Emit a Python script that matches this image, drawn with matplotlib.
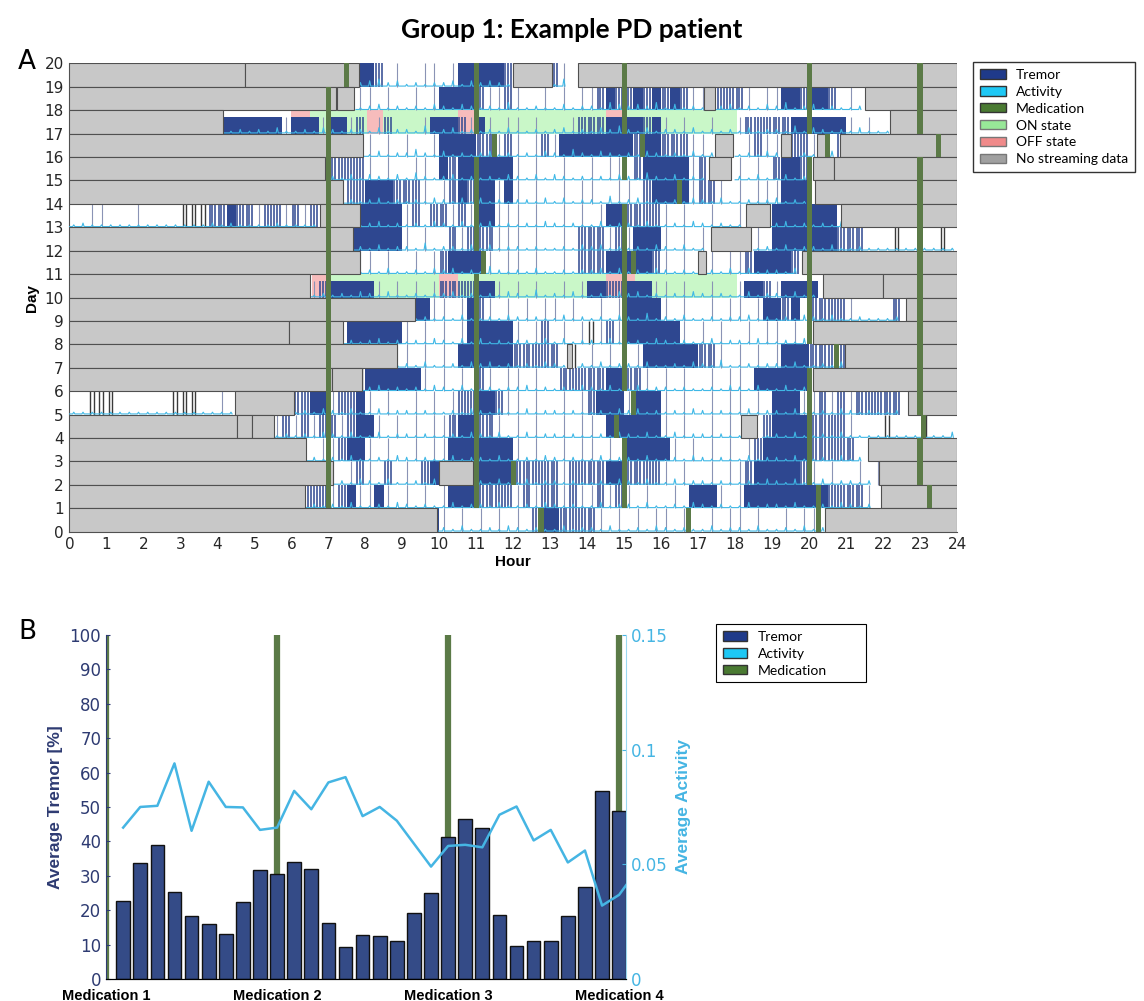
import numpy as np
import matplotlib
matplotlib.use("Agg")
import matplotlib.pyplot as plt
from matplotlib.patches import Rectangle, Patch

plt.rcParams['font.family'] = ['DejaVu Sans']

# colours
TREMOR_C = '#2e4790'
LIGHT_C = '#8a93b5'
ACT_C = '#3fb8e6'
MED_C = '#5b7a47'
ON_C = '#c9f7c8'
OFF_C = '#f7bcbc'
GRAY_C = '#c8c8c8'

# ---------------- panel A data ----------------
hours = list(range(0, 25))
days = list(range(0, 21))

# no streaming data (start hour, end hour) per day row
no_data = {
    19: [(0, 4.75), (4.75, 7.84), (12.0, 13.04), (13.76, 24)],
    18: [(0, 7.22), (7.25, 7.7), (17.15, 17.45), (21.5, 24)],
    17: [(0, 4.16), (22.18, 24)],
    16: [(0, 7.95), (17.45, 17.93), (19.25, 19.52), (20.2, 20.5), (20.83, 24)],
    15: [(0, 6.91), (17.3, 17.9), (20.1, 20.67), (20.67, 24)],
    14: [(0, 7.4), (20.15, 24)],
    13: [(6.77, 7.86), (18.3, 18.94), (20.87, 24)],
    12: [(0, 7.68), (17.36, 18.44)],
    11: [(0, 7.86), (17.0, 17.2), (19.8, 24)],
    10: [(0, 6.5), (20.38, 22.0), (22.0, 24)],
    9: [(0, 9.34), (22.63, 24)],
    8: [(0, 5.93), (5.93, 7.39), (20.1, 24)],
    7: [(0, 8.85), (13.45, 13.6), (20.96, 24)],
    6: [(0, 7.09), (7.09, 7.9), (20.1, 24)],
    5: [(4.48, 6.08), (22.68, 24)],
    4: [(0, 4.52), (4.52, 4.95), (4.95, 5.53), (18.17, 18.58)],
    3: [(0, 6.41), (21.6, 24)],
    2: [(0, 7.13), (10.0, 10.9), (21.9, 24)],
    1: [(0, 6.37), (21.95, 24)],
    0: [(0, 9.93), (20.43, 24)],
}

medication = {
    19: [7.5, 11.0, 15.0, 20.0, 23.0],
    18: [7.0, 11.0, 15.0, 20.0, 23.0],
    17: [7.0, 11.0, 15.0, 20.0, 23.0],
    16: [7.0, 11.5, 15.5, 20.5, 23.5],
    15: [7.0, 11.0, 15.0, 20.0, 23.0],
    14: [7.0, 11.0, 16.5, 20.0, 23.0],
    13: [7.0, 11.0, 15.0, 20.0, 23.0],
    12: [7.0, 11.0, 15.0, 20.0, 23.0],
    11: [7.0, 11.2, 15.0, 15.25, 20.0, 23.0],
    10: [7.0, 11.0, 15.0, 20.0, 23.0],
    9: [7.0, 11.0, 15.0, 20.0, 23.0],
    8: [7.0, 11.0, 15.0, 20.0, 23.0],
    7: [7.0, 11.0, 15.0, 20.75, 23.0],
    6: [7.0, 11.0, 15.0, 20.0, 23.0],
    5: [7.0, 11.0, 15.25, 20.0, 23.0],
    4: [7.0, 11.0, 14.8, 20.0, 23.1],
    3: [7.0, 11.0, 15.0, 20.0, 23.0],
    2: [7.0, 11.0, 12.0, 15.0, 20.0, 23.0],
    1: [7.0, 11.0, 15.0, 20.25, 23.25],
    0: [12.75, 16.75, 20.25],
}

on_state = {17: [(6.5, 8.04), (8.49, 10.5), (10.96, 14.52), (14.97, 18.04)],
            10: [(6.95, 10.0), (10.5, 14.52), (15.3, 18.04)]}
off_state = {17: [(6.0, 6.5), (8.04, 8.49), (10.5, 10.96), (14.52, 14.97)],
             10: [(6.55, 6.95), (10.0, 10.5), (14.52, 15.3)]}

# tremor per 15 min bin, groups of one hour starting at given hour
# '-' none, '.' few stripes, ':' many stripes, '#' continuous, 'k' dark gray stripes
tremor_rows = {
    19: (7, "---# #:-. --.. -.## ###: ---- :.--"),
    18: (7, "---. .-.- -.-. #### :..: .--. -.-. .:#: :#:# :#:. .-:: :.-. .##: ##:- .---"),
    17: (4, "#### ###. ###. ##.: -.:- --.# ##:. #.-. .-.- --.: ::## ##:# .-.- -.-- .::: ::## #### .-.-"),
    16: (7, "---. .-.- .--. #### ::.: .-.: .### #### #:## :::. .-.- -.:. .-:: .--:"),
    15: (6, "---: :::: .-.- -..- #:## #### .-.- -.-- .-.. -:## ###. :--- .-.- :##:"),
    14: (7, "-.:: ###: ::.- .:#: ##.# .-.- -.-. .--. .-:# ###. ::.- .-.. .###"),
    13: (0, "--.. ---. ---- kkk: :#:: .::. :.:- ---# #### .:-: :.:. ##.. .-.- -.-. -.## :::: .-.- -.-- .--: #### ###-"),
    12: (7, "--## #### .-.- -:.: ::.. .-.- -.-: ::.: .### .-.- .--- --.- #### ###: ::-- -k-- --k-"),
    11: (7, "---. .-.- -.-. :### #.-. .-.- -.-: ::## ###: .-.- -.-. .:## ##:-"),
    10: (6, "--.: #### #.-. -.-. :::: ##.- .-.- -.-. ##:: ###. .-.- -.-- .##: .### #---"),
    9: (9, "-##. .-.# :.-. -.-. .-.- -.-. #### .-.- -.-. .-.# #:#- :::: .--- -:--"),
    8: (7, "-.## #### .-.- .-.# #### .-.: -.-. k.:. #### ##.- .-.- -.-. .-.-"),
    7: (8, "---. .-.- .-## #### :::: :-k- .-.- -.## #### ::.- .-.- .### ::::"),
    6: (7, "---k #### ##.- .-.- :.-. .-.- -::: ::## ::.- .-.- -.-. .-## ####"),
    5: (0, "--kk k--- ---k kk-- .--- ---- ::## .::# .-.- -.-. -.:: ##:. .-.- -.-. :### .### .-.- -.-. .-.- ###. .:.: .::: ::--"),
    4: (5, "--.: .:.: :.:# #.-. -.-. .:## ::.- .-.- -.-. .-## #### .-.- -.-. ---: #### :::: .--- k--- k---"),
    3: (6, "-.-. .:## .-.- -.-. .### #### .-.- -.-. .-.- #### #.-. -.-. -.:# #### :::: :---"),
    2: (7, ".-.: .-:- .-:# ---. #### :::: :.:: ::## :::: .-.- -.-. .:## ###: .-.- -.-."),
    1: (6, "-::: .:#. .#.- .-.- .### :::: .:.: :.:. .:.: .-.- -.-# ##.- .### #### ##:: ::.-"),
    0: (9, "---# .-.- .-.- .-:# #::: :.-. -.-. .-.- -.-. .-.- -.-. .---"),
}

# activity trace level per 15 min bin (1 = low), '-' = no trace
activity_rows = {
    19: (7, "---2 3423 1212 2313 2321 ---- 14--"),
    18: (7, "---1 2312 1213 2132 1214 1121 1312 2143 2324 1312 1-23 1213 2412 3121 12--"),
    17: (4, "1121 2131 1213 2122 1312 2141 2312 1213 1121 2312 1324 2131 2213 1212 1312 2141 3212 1311 1---"),
    16: (7, "---1 1312 2421 3121 2312 1213 2142 1321 2132 1213 12-- 1213 2--2 1-3-"),
    15: (6, "---1 2131 3213 1421 2312 1213 2131 3212 1213 2142 1312 1--- 2131 1312"),
    14: (7, "-121 2312 1213 2131 3121 2213 1312 2141 2312 1213 2131 1212 3121"),
    13: (0, "1211 1111 1111 1112 1211 1121 111- ---1 2312 1213 2131 2312 1213 2121 1312 2131 1213 2121 1--1 2312 1213"),
    12: (7, "--12 1312 2141 2213 1312 2121 1213 2312 1213 2131 1--- --12 1312 2131 1211 1111 1111"),
    11: (7, "---1 2131 1213 2312 1421 2131 1212 2313 1213 2121 1213 1312 213-"),
    10: (6, "--12 1213 2131 1212 2312 1213 2141 2131 1213 2312 1213 2121 1312 2131 1---"),
    9: (9, "-121 2131 1213 2121 1312 1213 2141 2131 1212 2312 1213 2131 1211 12--"),
    8: (7, "-121 2312 1213 2131 3121 2213 1312 2131 1213 2121 1312 2131 1213"),
    7: (8, "---1 2131 1213 2312 1213 21-2 1312 2131 1213 2141 1212 2131 1213"),
    6: (7, "---1 2312 1213 2131 1212 2312 1213 2131 1312 2121 1213 2131 1312"),
    5: (0, "1111 1111 1111 1111 11-- ---- 1213 2131 1312 2121 1213 2131 1312 2121 1213 2312 1213 2121 1312 2131 1213 2121 12--"),
    4: (5, "--12 1213 2131 1312 2121 1213 2131 1312 2121 1213 2131 1312 2121 1--1 2131 1213 1111 1111 1113"),
    3: (6, "-121 2131 1213 2121 1312 2131 1213 2121 1312 2131 1213 2121 1312 2131 1213 12--"),
    2: (7, "1213 2131 1213 ---1 2131 1312 2121 1213 2131 1312 2121 1213 2131 1312 212-"),
    1: (6, "-121 2131 1213 2121 1312 2131 1213 2121 1312 2131 1213 2121 1312 2131 1213 212-"),
    0: (9, "---1 2131 1213 2121 1312 2131 1213 2121 1312 2131 1213 12--"),
}

# ---------------- panel B data ----------------
interval_tremor = [22.8, 33.8, 39.0, 25.2, 18.4, 16.0, 13.1, 22.3, 31.8, 30.6,
                   34.1, 32.1, 16.4, 9.2, 12.9, 12.4, 11.0, 19.1, 24.9, 41.3,
                   46.5, 44.0, 18.7, 9.7, 10.9, 10.9, 18.2, 26.6, 54.5, 48.9]
interval_activity = [0.066, 0.075, 0.0755, 0.094, 0.0646, 0.086, 0.075, 0.0748, 0.065, 0.066,
                     0.082, 0.074, 0.0857, 0.088, 0.071, 0.075, 0.069, 0.059, 0.049, 0.058,
                     0.0585, 0.0574, 0.0716, 0.0752, 0.0604, 0.065, 0.0508, 0.056, 0.032, 0.0367,
                     0.047]
med_intervals = [0, 10, 20, 30]
med_labels = ['Medication 1', 'Medication 2', 'Medication 3', 'Medication 4']


def expand(start, groups):
    s = '-' * (start * 4) + groups.replace(' ', '')
    return s.ljust(96, '-')


fig = plt.figure(figsize=(11.44, 10.01), dpi=100)

fig.text(0.5, 1 - 30 / 1001, 'Group 1: Example PD patient', ha='center', va='center',
         fontsize=19, fontweight='bold', family='Lato')
fig.text(18 / 1144, 1 - 62 / 1001, 'A', ha='left', va='center', fontsize=19)
fig.text(18 / 1144, 1 - 632 / 1001, 'B', ha='left', va='center', fontsize=19)

# ---------------- panel A ----------------
ax = fig.add_axes([0.0606, 0.4688, 0.776, 0.4679])

for d in on_state:
    for a, b in on_state[d]:
        ax.add_patch(Rectangle((a, d), b - a, 1, facecolor=ON_C, lw=0, zorder=1))
    for a, b in off_state[d]:
        ax.add_patch(Rectangle((a, d), b - a, 1, facecolor=OFF_C, lw=0, zorder=1))

for d, (start, groups) in tremor_rows.items():
    codes = expand(start, groups)
    top = d + (0.72 if d in on_state else 1.0)
    xs_mid, xs_light, xs_dark = [], [], []
    for k, c in enumerate(codes):
        x = k / 4
        if c == '#':
            ax.add_patch(Rectangle((x, d), 0.25, top - d, facecolor=TREMOR_C, lw=0, zorder=2))
        elif c == ':':
            xs_mid += [x + 0.04, x + 0.11, x + 0.19]
        elif c == '.':
            xs_light.append(x + 0.12)
        elif c == 'k':
            xs_dark += [x + 0.06, x + 0.16]
    ax.vlines(xs_mid, d, top, color=TREMOR_C, lw=1.1, zorder=2)
    ax.vlines(xs_light, d, top, color=LIGHT_C, lw=0.8, zorder=2)
    ax.vlines(xs_dark, d, top, color='#3a3a3a', lw=1.0, zorder=2)

# activity: one spike per 15 min bin on a baseline at the bottom of the row
for d, (start, groups) in activity_rows.items():
    codes = expand(start, groups)
    base = d + 0.03
    xs, ys = [], []
    for k, c in enumerate(codes):
        x = k / 4
        if c.isdigit():
            lvl = base + int(c) * 0.075
            xs += [x, x + 0.09, x + 0.12, x + 0.15]
            ys += [base, base, lvl, base]
        else:
            xs.append(x)
            ys.append(np.nan)
    ax.plot(xs, ys, color=ACT_C, lw=0.8, zorder=3)

for d, segs in no_data.items():
    for a, b in segs:
        ax.add_patch(Rectangle((a, d), b - a, 1, facecolor=GRAY_C, edgecolor='#505050',
                               lw=0.8, zorder=4))

for d, meds in medication.items():
    for m in meds:
        ax.add_patch(Rectangle((m - 0.07, d), 0.14, 1, facecolor=MED_C, lw=0, zorder=5))

ax.set_xlim(0, 24)
ax.set_ylim(0, 20)
ax.set_xticks(hours)
ax.set_yticks(days)
ax.tick_params(length=0, labelsize=11, pad=4, colors='#262626')
for s in ['top', 'right']:
    ax.spines[s].set_visible(False)
for s in ['left', 'bottom']:
    ax.spines[s].set_color('#505050')
    ax.spines[s].set_linewidth(0.8)
ax.set_xlabel('Hour', fontsize=11, fontweight='bold', family='Liberation Sans', labelpad=2)
ax.set_ylabel('Day', fontsize=11, fontweight='bold', family='Liberation Sans', labelpad=4)

leg_a = [Patch(facecolor='#1f3a8a', edgecolor='#333333', label='Tremor'),
         Patch(facecolor='#1ec8f5', edgecolor='#333333', label='Activity'),
         Patch(facecolor='#4a7a32', edgecolor='#333333', label='Medication'),
         Patch(facecolor='#98e898', edgecolor='#777777', label='ON state'),
         Patch(facecolor='#f08a8a', edgecolor='#777777', label='OFF state'),
         Patch(facecolor='#a0a0a0', edgecolor='#777777', label='No streaming data')]
fig.legend(handles=leg_a, loc='upper left', bbox_to_anchor=(973 / 1144, 1 - 62 / 1001),
           prop={'family': 'Lato', 'size': 10}, frameon=True, fancybox=False,
           edgecolor='black', borderaxespad=0, handlelength=1.9, handleheight=0.65,
           handletextpad=0.7, labelspacing=0.35, borderpad=0.5)

# ---------------- panel B ----------------
bx = fig.add_axes([0.0927, 0.022, 0.4545, 0.3437])
x_bins = np.arange(1, len(interval_tremor) + 1)
for m in med_intervals:
    bx.axvline(m, color=MED_C, lw=4.5, zorder=1)
bx.bar(x_bins, interval_tremor, width=0.8, color='#344b87', edgecolor='#111111', lw=1, zorder=2)
bx.set_xlim(0, 30.4)
bx.set_ylim(0, 100)
bx.set_yticks(range(0, 101, 10))
bx.set_xticks(med_intervals)
bx.set_xticklabels(med_labels, fontsize=10.5, fontweight='bold', family='Liberation Sans')
bx.tick_params(axis='x', length=0, pad=7)
bx.tick_params(axis='y', colors='#2e3b72', labelsize=12, length=3, direction='in')
bx.set_ylabel('Average Tremor [%]', color='#2e3b72', fontsize=12.5, fontweight='bold',
              family='Liberation Sans', labelpad=5)
bx.spines['top'].set_visible(False)
bx.spines['left'].set_color('#2e3b72')
bx.spines['right'].set_visible(False)

br = bx.twinx()
br.plot(np.arange(1, len(interval_activity) + 1), interval_activity, color='#45b5e3', lw=1.8)
br.set_ylim(0, 0.15)
br.set_xlim(0, 30.4)
br.set_yticks([0, 0.05, 0.1, 0.15])
br.set_yticklabels(['0', '0.05', '0.1', '0.15'])
br.tick_params(axis='y', colors='#45b5e3', labelsize=12, length=3, direction='in')
br.set_ylabel('Average Activity', color='#45b5e3', fontsize=12.5, fontweight='bold',
              family='Liberation Sans', labelpad=6)
br.spines['top'].set_visible(False)
br.spines['left'].set_visible(False)
br.spines['right'].set_color('#9ad8f0')

leg_b = [Patch(facecolor='#1f3a8a', edgecolor='#333333', label='Tremor'),
         Patch(facecolor='#1ec8f5', edgecolor='#333333', label='Activity'),
         Patch(facecolor='#4a7a32', edgecolor='#333333', label='Medication')]
fig.legend(handles=leg_b, loc='upper left', bbox_to_anchor=(716 / 1144, 1 - 624 / 1001),
           prop={'family': 'Lato', 'size': 10}, frameon=False,
           borderaxespad=0, handlelength=1.7, handleheight=0.65,
           handletextpad=0.8, labelspacing=0.35, borderpad=0.5)
fig.patches.append(Rectangle((716 / 1144, 1 - 682 / 1001), 150 / 1144, 58 / 1001,
                             transform=fig.transFigure, fill=False, edgecolor='black', lw=0.8))

fig.savefig('out.png', dpi=100)
